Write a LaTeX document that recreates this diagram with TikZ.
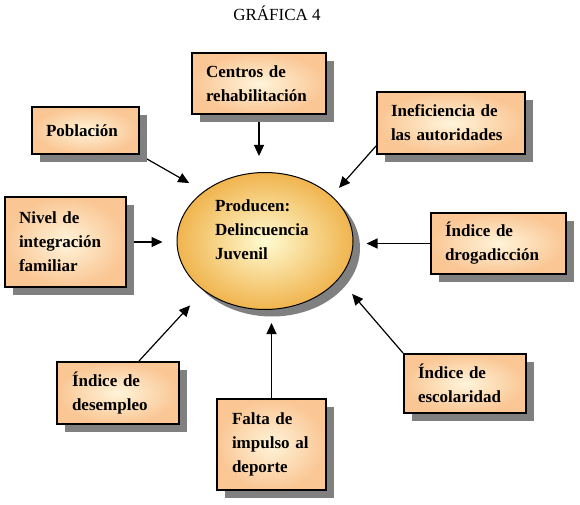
\documentclass[tikz,border=0pt]{standalone}
\usepackage{fontspec}
\setmainfont{Liberation Serif}
\usetikzlibrary{shadows,arrows.meta,shapes.geometric}
\pgfdeclarelayer{background}
\pgfsetlayers{background,main}
\definecolor{boxedge}{RGB}{250,198,148}
\definecolor{boxcenter}{RGB}{255,244,218}
\definecolor{elledge}{RGB}{240,180,78}
\definecolor{ellcenter}{RGB}{255,251,210}
\definecolor{shadowgray}{RGB}{128,128,128}
\begin{document}
\begin{tikzpicture}[x=1pt,y=-1pt,
  factor/.style={draw=black, line width=2pt, inner color=boxcenter, outer color=boxedge,
    drop shadow={shadow xshift=8pt, shadow yshift=-8pt, fill=shadowgray, opacity=1},
    align=left, inner xsep=13pt, inner ysep=0pt,
    font=\fontsize{17}{24}\selectfont\bfseries},
  effect/.style={ellipse, draw=black, line width=1pt, inner color=ellcenter, outer color=elledge,
    drop shadow={shadow xshift=7pt, shadow yshift=-7pt, fill=shadowgray, opacity=1},
    align=left, inner sep=0pt, text width=100pt, text depth=70pt,
    minimum width=176pt, minimum height=137pt,
    font=\fontsize{17}{24}\selectfont\bfseries},
  arr/.style={line width=1.2pt, -{Triangle[length=11pt,width=10pt]}},
  titlefont/.style={font=\fontsize{17}{20}\selectfont}
]
\useasboundingbox (0,0) rectangle (580,505);

\node[titlefont] (title) at (277,13) {GRÁFICA 4};

\node[effect] (ell) at (265,241) {Producen:\\Delincuencia\\Juvenil};

\node[factor, minimum width=107pt, minimum height=47pt, text width=79pt] (pob) at (85.5,130.5) {Población};
\node[factor, minimum width=134pt, minimum height=61pt, text width=106pt] (cen) at (259,83.5) {Centros de\\rehabilitación};
\node[factor, minimum width=148pt, minimum height=62pt, text width=120pt] (ine) at (451,123) {Ineficiencia de\\las autoridades};
\node[factor, minimum width=121pt, minimum height=90pt, text width=93pt] (niv) at (65.5,242) {Nivel de\\integración\\familiar};
\node[factor, minimum width=135pt, minimum height=61pt, text width=107pt] (dro) at (498.5,243.5) {Índice de\\drogadicción};
\node[factor, minimum width=122pt, minimum height=59pt, text width=94pt] (esc) at (465,383.5) {Índice de\\escolaridad};
\node[factor, minimum width=122pt, minimum height=62pt, text width=92pt, inner xsep=15pt] (des) at (118,393) {Índice de\\desempleo};
\node[factor, minimum width=109pt, minimum height=91pt, text width=79pt, inner xsep=15pt] (fal) at (271.5,444.5) {Falta de\\impulso al\\deporte};

\begin{pgfonlayer}{background}
\draw[arr, shorten >=16pt] (cen.south) -- (cen.south |- ell.north);
\draw[arr, shorten >=13pt] (fal.north) -- (fal.north |- ell.south);
\draw[arr, shorten >=14pt] (niv.east) -- (niv.east -| ell.west);
\draw[arr, shorten >=13pt] (dro.west) -- (dro.west -| ell.east);
\draw[arr, shorten >=16.6pt] (pob.south east) -- (ell.141);
\draw[arr, shorten >=10.7pt] ([yshift=9pt]ine.south west) -- (ell.34);
\draw[arr, shorten >=20pt] (esc.north west) -- (ell.-27);
\draw[arr, shorten >=20pt] ([xshift=21pt]des.north) -- (ell.219);
\end{pgfonlayer}
\end{tikzpicture}
\end{document}
